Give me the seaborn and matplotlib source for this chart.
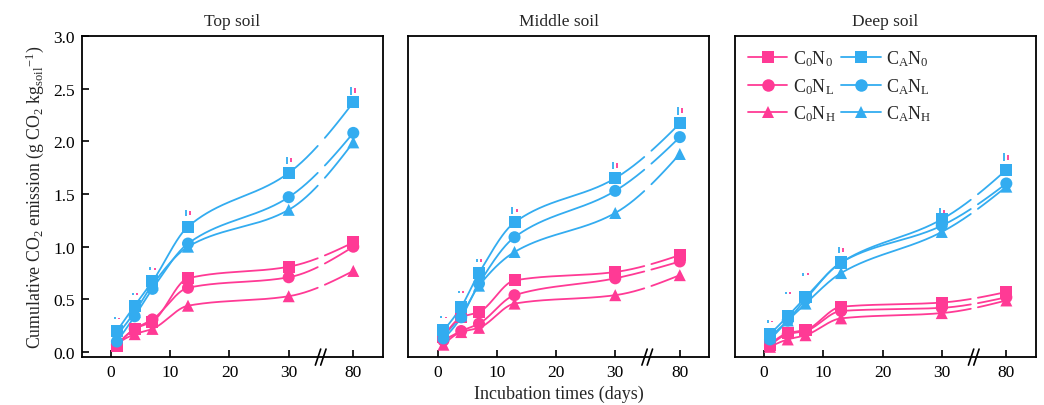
import numpy as np
import pandas as pd
import matplotlib
matplotlib.use("Agg")
import matplotlib.pyplot as plt
import matplotlib.transforms as mtransforms
from matplotlib.lines import Line2D
import seaborn as sns

# ---------------- data ----------------
days = [1, 4, 7, 13, 30, 80]
tick_days = [0, 10, 20, 30, 80]
soils = ["Top soil", "Middle soil", "Deep soil"]
series_names = ["C0N0", "C0NL", "C0NH", "CAN0", "CANL", "CANH"]

top_C0N0 = [0.06, 0.22, 0.29, 0.70, 0.81, 1.04]
top_C0NL = [0.07, 0.22, 0.31, 0.61, 0.71, 1.00]
top_C0NH = [0.08, 0.17, 0.22, 0.44, 0.53, 0.77]
top_CAN0 = [0.20, 0.44, 0.67, 1.19, 1.70, 2.37]
top_CANL = [0.10, 0.34, 0.60, 1.03, 1.47, 2.08]
top_CANH = [0.16, 0.38, 0.64, 1.00, 1.35, 1.99]

mid_C0N0 = [0.14, 0.33, 0.38, 0.68, 0.76, 0.92]
mid_C0NL = [0.11, 0.20, 0.27, 0.54, 0.70, 0.86]
mid_C0NH = [0.07, 0.19, 0.23, 0.46, 0.54, 0.73]
mid_CAN0 = [0.21, 0.43, 0.75, 1.23, 1.65, 2.17]
mid_CANL = [0.13, 0.33, 0.65, 1.09, 1.53, 2.04]
mid_CANH = [0.16, 0.35, 0.63, 0.95, 1.32, 1.88]

deep_C0N0 = [0.07, 0.18, 0.21, 0.43, 0.47, 0.57]
deep_C0NL = [0.06, 0.17, 0.20, 0.39, 0.42, 0.52]
deep_C0NH = [0.05, 0.12, 0.16, 0.32, 0.37, 0.49]
deep_CAN0 = [0.17, 0.34, 0.52, 0.85, 1.26, 1.73]
deep_CANL = [0.12, 0.30, 0.50, 0.85, 1.20, 1.60]
deep_CANH = [0.14, 0.30, 0.46, 0.75, 1.14, 1.57]

# small significance/error marks above each time point (centre, blue & pink lengths)
top_sig = [0.32, 0.55, 0.79, 1.32, 1.82, 2.48]
mid_sig = [0.33, 0.57, 0.87, 1.345, 1.77, 2.29]
deep_sig = [0.29, 0.56, 0.74, 0.97, 1.33, 1.85]
sig_len_blue = [0.02, 0.025, 0.03, 0.06, 0.07, 0.08]
sig_len_pink = [0.015, 0.02, 0.025, 0.035, 0.04, 0.045]

panel_data = {
    "Top soil": [top_C0N0, top_C0NL, top_C0NH, top_CAN0, top_CANL, top_CANH],
    "Middle soil": [mid_C0N0, mid_C0NL, mid_C0NH, mid_CAN0, mid_CANL, mid_CANH],
    "Deep soil": [deep_C0N0, deep_C0NL, deep_C0NH, deep_CAN0, deep_CANL, deep_CANH],
}
panel_sig = {"Top soil": top_sig, "Middle soil": mid_sig, "Deep soil": deep_sig}

# ---------------- style ----------------
PINK = "#FF3A95"
BLUE = "#33ACF0"
colors = {"C0N0": PINK, "C0NL": PINK, "C0NH": PINK,
          "CAN0": BLUE, "CANL": BLUE, "CANH": BLUE}
markers = {"C0N0": "s", "C0NL": "o", "C0NH": "^",
           "CAN0": "s", "CANL": "o", "CANH": "^"}
labels = {"C0N0": r"C$_0$N$_0$", "C0NL": r"C$_0$N$_\mathrm{L}$", "C0NH": r"C$_0$N$_\mathrm{H}$",
          "CAN0": r"C$_\mathrm{A}$N$_0$", "CANL": r"C$_\mathrm{A}$N$_\mathrm{L}$",
          "CANH": r"C$_\mathrm{A}$N$_\mathrm{H}$"}

sns.set_theme(style="white")
plt.rcParams["font.family"] = ["Liberation Serif", "DejaVu Serif"]
plt.rcParams["mathtext.fontset"] = "custom"
plt.rcParams["mathtext.rm"] = "Liberation Serif"
plt.rcParams["mathtext.it"] = "Liberation Serif:italic"
plt.rcParams["mathtext.bf"] = "Liberation Serif:bold"

# axis position of day 80 after the axis break
POS80 = 40.9
BREAK = 35.4
GAP = (35.0, 36.0)


def to_pos(d):
    return d if d <= 30 else POS80


def pchip(x, y, xs):
    """Monotone piecewise cubic Hermite interpolation (smooth drawing of curves)."""
    x = np.asarray(x, float)
    y = np.asarray(y, float)
    h = np.diff(x)
    dlt = np.diff(y) / h
    n = len(x)
    d = np.zeros(n)
    for k in range(1, n - 1):
        if dlt[k - 1] * dlt[k] <= 0:
            d[k] = 0
        else:
            w1 = 2 * h[k] + h[k - 1]
            w2 = h[k] + 2 * h[k - 1]
            d[k] = (w1 + w2) / (w1 / dlt[k - 1] + w2 / dlt[k])

    def end(h0, h1, d0, d1):
        v = ((2 * h0 + h1) * d0 - h0 * d1) / (h0 + h1)
        if np.sign(v) != np.sign(d0):
            v = 0
        elif np.sign(d0) != np.sign(d1) and abs(v) > abs(3 * d0):
            v = 3 * d0
        return v

    d[0] = end(h[0], h[1], dlt[0], dlt[1])
    d[-1] = end(h[-1], h[-2], dlt[-1], dlt[-2])
    out = np.empty_like(xs)
    for j, xv in enumerate(xs):
        i = min(max(np.searchsorted(x, xv) - 1, 0), n - 2)
        t = (xv - x[i]) / h[i]
        h00 = 2 * t ** 3 - 3 * t ** 2 + 1
        h10 = t ** 3 - 2 * t ** 2 + t
        h01 = -2 * t ** 3 + 3 * t ** 2
        h11 = t ** 3 - t ** 2
        out[j] = h00 * y[i] + h10 * h[i] * d[i] + h01 * y[i + 1] + h11 * h[i] * d[i + 1]
    return out


fig, axes = plt.subplots(1, 3, figsize=(10.44, 4.06), dpi=100, sharey=True)
fig.subplots_adjust(left=0.0785, right=0.9923, bottom=0.118, top=0.909, wspace=0.085)

pos = [to_pos(d) for d in days]

for ax, soil in zip(axes, soils):
    vals = panel_data[soil]
    pts = pd.DataFrame({
        "pos": np.tile(pos, len(series_names)),
        "val": np.concatenate(vals),
        "series": np.repeat(series_names, len(days)),
    })
    rows = []
    xs = np.linspace(pos[0], pos[-1], 400)
    for name, v in zip(series_names, vals):
        ys = pchip(pos, v, xs)
        for xv, yv in zip(xs, ys):
            if GAP[0] <= xv <= GAP[1]:
                continue
            rows.append((xv, yv, name, 0 if xv < GAP[0] else 1))
    curves = pd.DataFrame(rows, columns=["pos", "val", "series", "seg"])
    curves["unit"] = curves["series"] + curves["seg"].astype(str)

    sns.lineplot(data=curves, x="pos", y="val", hue="series", units="unit",
                 estimator=None, sort=False, palette=colors, hue_order=series_names[::-1],
                 linewidth=1.3, legend=False, ax=ax)
    sns.scatterplot(data=pts, x="pos", y="val", hue="series", style="series",
                    palette=colors, markers=markers, hue_order=series_names[::-1],
                    style_order=series_names[::-1],
                    s=75, linewidth=0, legend=False, ax=ax, zorder=3)

    sig = panel_sig[soil]
    for p, sy, lb, lp in zip(pos, sig, sig_len_blue, sig_len_pink):
        ax.vlines(p - 0.35, sy - lb / 2, sy + lb / 2, color=BLUE, lw=1.3)
        ax.vlines(p + 0.35, sy - lp / 2, sy + lp / 2, color=PINK, lw=1.3)

    ax.set_xlim(-4.9, 45.9)
    ax.set_ylim(-0.0475, 3.0)
    ax.set_xticks([to_pos(d) for d in tick_days])
    ax.set_xticklabels([str(d) for d in tick_days])
    ax.set_yticks(np.arange(0, 3.01, 0.5))
    ax.set_yticklabels([f"{v:.1f}" for v in np.arange(0, 3.01, 0.5)])
    ax.set_title(soil, fontsize=12.5, pad=8)
    ax.set_xlabel("")
    ax.set_ylabel("")
    for sp in ax.spines.values():
        sp.set_visible(True)
        sp.set_color("black")
        sp.set_linewidth(1.3)
    ax.tick_params(axis="both", direction="in", length=5, width=1.2, colors="black",
                   labelsize=12.5, bottom=True, left=True, top=False, right=False, pad=5)

    trans = mtransforms.blended_transform_factory(ax.transData, ax.transAxes)
    for dx in (-0.45, 0.45):
        ax.plot([BREAK + dx - 0.45, BREAK + dx + 0.45], [-0.025, 0.025], color="black",
                lw=1.2, transform=trans, clip_on=False, zorder=5)

for ax in axes[1:]:
    ax.tick_params(axis="y", left=False, labelleft=False)

axes[0].set_ylabel(r"Cumulative CO$_2$ emission (g CO$_2$ kg$_\mathrm{soil}$$^{-1}$)",
                   fontsize=12.8, labelpad=5)
axes[1].set_xlabel("Incubation times (days)", fontsize=13, labelpad=3)

handles = [Line2D([], [], color=colors[n], marker=markers[n], markersize=9, lw=1.3,
                  markeredgewidth=0) for n in series_names]
axes[2].legend(handles, [labels[n] for n in series_names], ncol=2, frameon=False,
               loc="upper left", bbox_to_anchor=(0.0, 1.0), fontsize=13,
               handlelength=2.2, columnspacing=0.3, handletextpad=0.3, labelspacing=0.42,
               borderaxespad=0.3)

fig.savefig("out.png", dpi=100)
